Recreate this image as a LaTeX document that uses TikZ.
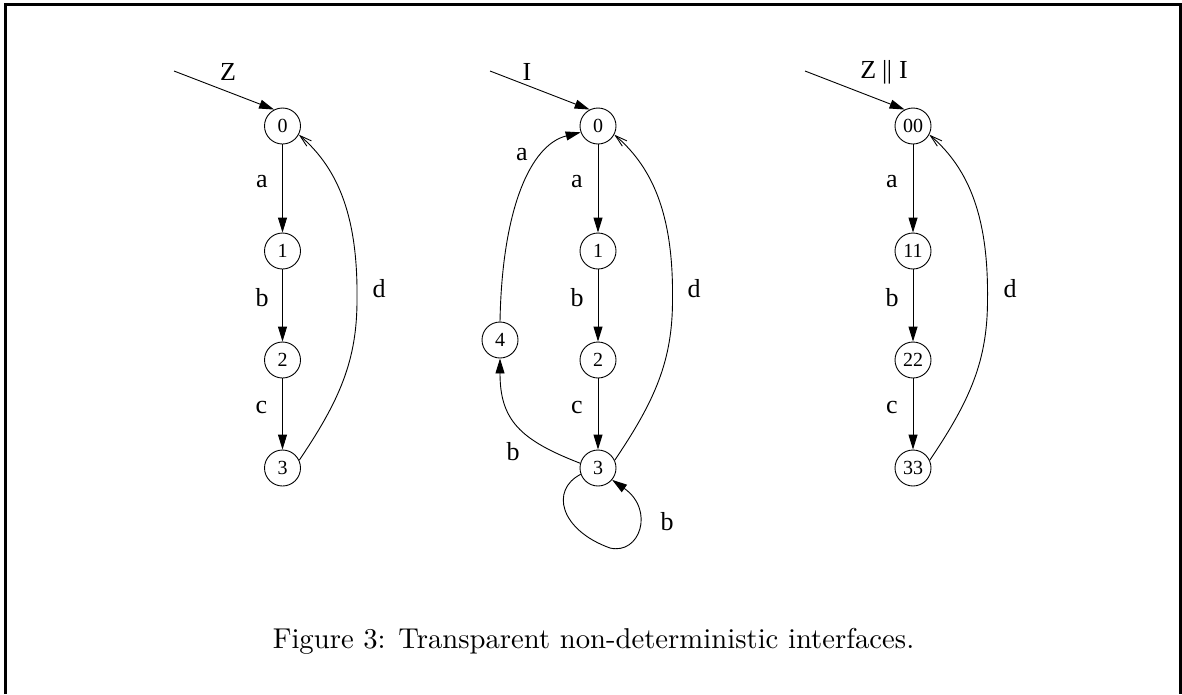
\documentclass[tikz,border=0pt]{standalone}
\usepackage{fontspec}
\newfontfamily\tms{Liberation Serif}
\usetikzlibrary{arrows.meta}
\begin{document}
\begin{tikzpicture}[x=1pt,y=-1pt,
  st/.style={circle,draw,line width=0.9pt,minimum size=36pt,inner sep=0pt,font=\tms\fontsize{20}{20}\selectfont},
  lbl/.style={font=\tms\fontsize{26}{26}\selectfont,inner sep=0pt},
  fwd/.style={line width=0.9pt,-{Triangle[length=15pt,width=9pt]}},
  back/.style={line width=0.9pt,-{Straight Barb[length=12pt,width=7pt]}},
  frame/.style={line width=2.7pt}]
\useasboundingbox (0,0) rectangle (1182,694);
% frame
\draw[frame] (5.3,694) -- (5.3,4.7) -- (1180.5,4.7) -- (1180.5,694);

% ---------- Z ----------
\coordinate (zs) at (174,71);
\node[st] (z0) at (282.5,126) {0};
\node[st] (z1) at (282.5,251) {1};
\node[st] (z2) at (282.5,360) {2};
\node[st] (z3) at (282.5,468) {3};
\node[lbl] (zl) at (228,72) {Z};
\draw[fwd] (zs) -- (z0.117);
\draw[fwd] (z0) -- (z1);
\draw[fwd] (z1) -- (z2);
\draw[fwd] (z2) -- (z3);
\draw[back] (z3.25) .. controls (340,400) and (357,360) .. (357,300)
            .. controls (358,220) and (340,170) .. (z0.-28);
\node[lbl] (za) at (262,182) {a};
\node[lbl] (zb) at (262,298) {b};
\node[lbl] (zc) at (261.5,407) {c};
\node[lbl] (zd) at (379,289) {d};

% ---------- I ----------
\coordinate (is) at (490,71);
\node[st] (i0) at (598,126) {0};
\node[st] (i1) at (598,251) {1};
\node[st] (i2) at (598,360) {2};
\node[st] (i3) at (598,468) {3};
\node[st] (i4) at (500,340) {4};
\node[lbl] (il) at (527,72) {I};
\draw[fwd] (is) -- (i0.117);
\draw[fwd] (i0) -- (i1);
\draw[fwd] (i1) -- (i2);
\draw[fwd] (i2) -- (i3);
\draw[back] (i3.25) .. controls (655.5,400) and (672.5,360) .. (672.5,300)
            .. controls (673.5,220) and (655.5,170) .. (i0.-28);
\draw[fwd] (i4.north) .. controls (502,210) and (530,145) .. (i0.200);
\draw[fwd] (i3.165) .. controls (520,440) and (500,420) .. (i4.south);
\draw[fwd] (i3.200) .. controls (550,490) and (560,530) .. (610,548)
            .. controls (640,555) and (655,510) .. (i3.-40);
\node[lbl] (ia) at (577,182) {a};
\node[lbl] (ib) at (577,298) {b};
\node[lbl] (ic) at (577,407) {c};
\node[lbl] (id) at (694,289) {d};
\node[lbl] (ia2) at (522,155) {a};
\node[lbl] (ib2) at (513,452) {b};
\node[lbl] (ib3) at (667,522) {b};

% ---------- Z || I ----------
\coordinate (ps) at (805,71);
\node[st] (p0) at (913,126) {00};
\node[st] (p1) at (913,251) {11};
\node[st] (p2) at (913,360) {22};
\node[st] (p3) at (913,468) {33};
\node[lbl] (pl) at (884,72) {Z\hspace{6pt}|\kern-0.5pt|\hspace{7pt}I};
\draw[fwd] (ps) -- (p0.117);
\draw[fwd] (p0) -- (p1);
\draw[fwd] (p1) -- (p2);
\draw[fwd] (p2) -- (p3);
\draw[back] (p3.25) .. controls (970.5,400) and (987.5,360) .. (987.5,300)
            .. controls (988.5,220) and (970.5,170) .. (p0.-28);
\node[lbl] (pa) at (892,182) {a};
\node[lbl] (pb) at (892,298) {b};
\node[lbl] (pc) at (892,407) {c};
\node[lbl] (pd) at (1010,289) {d};

% caption
\node[anchor=base,inner sep=0pt] (cap) at (593.5,648)
  {\scalebox{2.87}{\fontsize{10}{12}\selectfont Figure 3: Transparent non-deterministic interfaces.}};
\end{tikzpicture}
\end{document}
